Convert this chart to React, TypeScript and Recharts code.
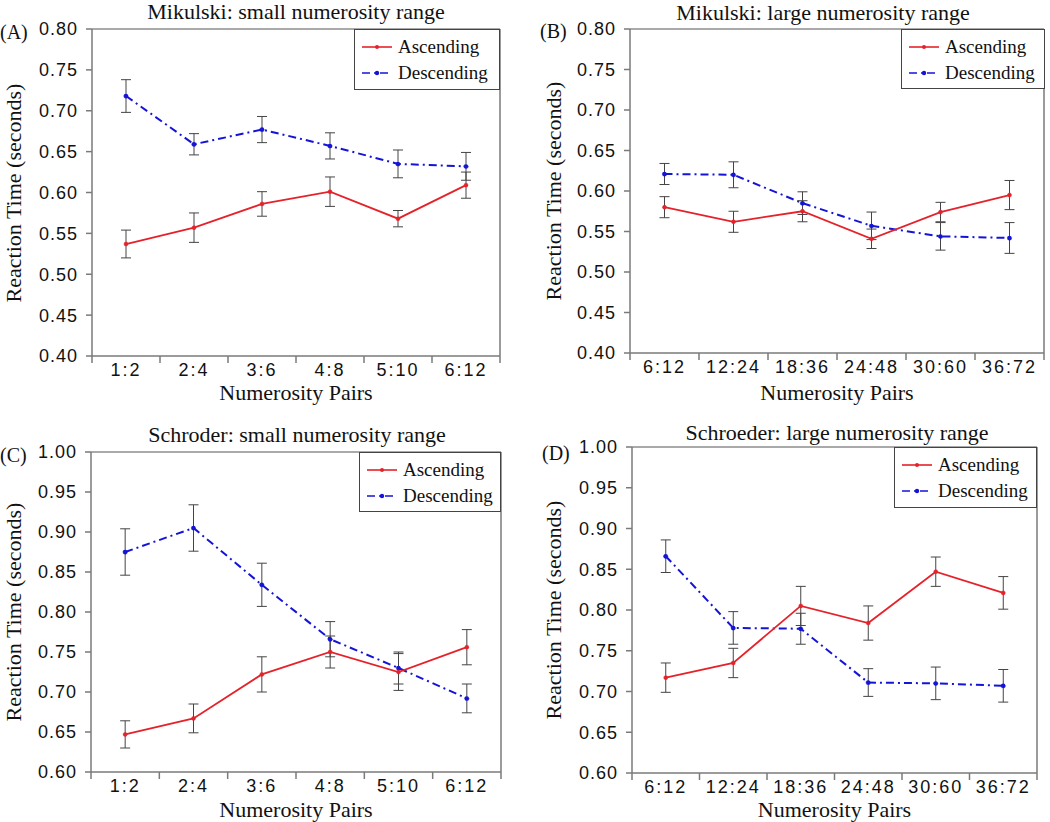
import React from 'react';
import { LineChart, Line, XAxis, YAxis, ErrorBar, Legend } from 'recharts';

// ---------- data ----------
const smallPairs = ['1:2', '2:4', '3:6', '4:8', '5:10', '6:12'];
const largePairs = ['6:12', '12:24', '18:36', '24:48', '30:60', '36:72'];
const ticksLow = [0.4, 0.45, 0.5, 0.55, 0.6, 0.65, 0.7, 0.75, 0.8];
const ticksHigh = [0.6, 0.65, 0.7, 0.75, 0.8, 0.85, 0.9, 0.95, 1.0];

const mikSmallAsc = [0.537, 0.557, 0.586, 0.601, 0.568, 0.609];
const mikSmallAscErr = [0.017, 0.018, 0.015, 0.018, 0.010, 0.016];
const mikSmallDesc = [0.718, 0.659, 0.677, 0.657, 0.635, 0.632];
const mikSmallDescErr = [0.020, 0.013, 0.016, 0.016, 0.017, 0.017];

const mikLargeAsc = [0.580, 0.562, 0.575, 0.541, 0.574, 0.595];
const mikLargeAscErr = [0.013, 0.013, 0.013, 0.012, 0.012, 0.018];
const mikLargeDesc = [0.621, 0.620, 0.585, 0.557, 0.544, 0.542];
const mikLargeDescErr = [0.013, 0.016, 0.014, 0.017, 0.017, 0.019];

const schSmallAsc = [0.647, 0.667, 0.722, 0.750, 0.725, 0.756];
const schSmallAscErr = [0.017, 0.018, 0.022, 0.020, 0.023, 0.022];
const schSmallDesc = [0.875, 0.905, 0.834, 0.766, 0.730, 0.692];
const schSmallDescErr = [0.029, 0.029, 0.027, 0.022, 0.020, 0.018];

const schLargeAsc = [0.717, 0.735, 0.805, 0.784, 0.847, 0.821];
const schLargeAscErr = [0.018, 0.018, 0.024, 0.021, 0.018, 0.020];
const schLargeDesc = [0.866, 0.778, 0.777, 0.711, 0.710, 0.707];
const schLargeDescErr = [0.020, 0.020, 0.019, 0.017, 0.020, 0.020];

const build = (cats: string[], asc: number[], ascErr: number[], desc: number[], descErr: number[]) =>
  cats.map((c, i) => ({ cat: c, asc: asc[i], ascErr: ascErr[i], desc: desc[i], descErr: descErr[i] }));

// ---------- style ----------
const W = 1050;
const H = 822;
const RED = '#e5222a';
const BLUE = '#1414d6';
const AXIS = '#7a7a7a';
const SERIF = '"Liberation Serif", "Times New Roman", serif';
const SANS = '"Liberation Sans", Arial, sans-serif';
const DASH = '8 4 2 4';
const AX = 1; // axis thickness reserved in the layout

type Panel = {
  letter: string;
  title: string;
  cats: string[];
  data: any[];
  ticks: number[];
  plot: { l: number; t: number; r: number; b: number };
  legend: { l: number; t: number; w: number; h: number };
  titleCx: number;
  titleCy: number;
  letterX: number;
  letterCy: number;
  yLabelCx: number;
  xLabelCy: number;
};

const panels: Panel[] = [
  {
    letter: '(A)', title: 'Mikulski: small numerosity range', cats: smallPairs,
    data: build(smallPairs, mikSmallAsc, mikSmallAscErr, mikSmallDesc, mikSmallDescErr),
    ticks: ticksLow, plot: { l: 92, t: 29, r: 500, b: 356 },
    legend: { l: 354, t: 29, w: 146, h: 61 },
    titleCx: 296, titleCy: 12, letterX: 0, letterCy: 32, yLabelCx: 14, xLabelCy: 393,
  },
  {
    letter: '(B)', title: 'Mikulski: large numerosity range', cats: largePairs,
    data: build(largePairs, mikLargeAsc, mikLargeAscErr, mikLargeDesc, mikLargeDescErr),
    ticks: ticksLow, plot: { l: 630, t: 29, r: 1044, b: 353 },
    legend: { l: 901, t: 29, w: 144, h: 60 },
    titleCx: 823, titleCy: 13, letterX: 540, letterCy: 31, yLabelCx: 554, xLabelCy: 393,
  },
  {
    letter: '(C)', title: 'Schroder: small numerosity range', cats: smallPairs,
    data: build(smallPairs, schSmallAsc, schSmallAscErr, schSmallDesc, schSmallDescErr),
    ticks: ticksHigh, plot: { l: 91, t: 452, r: 501, b: 772 },
    legend: { l: 359, t: 452, w: 142, h: 60 },
    titleCx: 297, titleCy: 435, letterX: 0, letterCy: 455, yLabelCx: 14, xLabelCy: 810,
  },
  {
    letter: '(D)', title: 'Schroeder: large numerosity range', cats: largePairs,
    data: build(largePairs, schLargeAsc, schLargeAscErr, schLargeDesc, schLargeDescErr),
    ticks: ticksHigh, plot: { l: 632, t: 447, r: 1037, b: 773 },
    legend: { l: 894, t: 447, w: 143, h: 61 },
    titleCx: 837, titleCy: 433, letterX: 542, letterCy: 453, yLabelCx: 554, xLabelCy: 810,
  },
];

const makeXTick = (bw: number, count: number) => (props: any) => {
  const { x, y, payload, index } = props;
  return (
    <g>
      <line x1={x - bw / 2} x2={x - bw / 2} y1={y} y2={y + 7} stroke={AXIS} strokeWidth={1.5} />
      {index === count - 1 && (
        <line x1={x + bw / 2} x2={x + bw / 2} y1={y} y2={y + 7} stroke={AXIS} strokeWidth={1.5} />
      )}
      <text x={x} y={y + 14} textAnchor="middle" dominantBaseline="central" fontFamily={SANS}
        fontSize={18} fill="#111" letterSpacing={2}>
        {payload.value}
      </text>
    </g>
  );
};

const LegendBox = ({ w, h }: { w: number; h: number }) => (
  <div style={{
    width: w, height: h, boxSizing: 'border-box', border: '1px solid #444', background: '#fff',
    fontFamily: SERIF, fontSize: 19, color: '#111', paddingLeft: 7, paddingTop: 4,
  }}>
    <div style={{ display: 'flex', alignItems: 'center', height: 26 }}>
      <svg width={30} height={10} style={{ marginRight: 6 }}>
        <line x1={0} x2={30} y1={5} y2={5} stroke={RED} strokeWidth={1.6} />
        <circle cx={15} cy={5} r={2} fill={RED} />
      </svg>
      <span>Ascending</span>
    </div>
    <div style={{ display: 'flex', alignItems: 'center', height: 26 }}>
      <svg width={30} height={10} style={{ marginRight: 6 }}>
        <line x1={0} x2={30} y1={5} y2={5} stroke={BLUE} strokeWidth={1.6} strokeDasharray="8 4 2 4" />
        <circle cx={15} cy={5} r={2.2} fill={BLUE} />
      </svg>
      <span>Descending</span>
    </div>
  </div>
);

const PanelChart = ({ p }: { p: Panel }) => {
  const { plot } = p;
  const bw = (plot.r - plot.l) / p.cats.length;
  const domain = [p.ticks[0], p.ticks[p.ticks.length - 1]];
  const yMid = (plot.t + plot.b) / 2;
  const xMid = (plot.l + plot.r) / 2;
  return (
    <>
      <div style={{ position: 'absolute', left: 0, top: 0, width: W, height: H }}>
        <LineChart width={W} height={H} data={p.data}
          margin={{ top: plot.t - AX, left: plot.l - AX, right: W - plot.r - AX, bottom: H - plot.b - AX }}>
          <XAxis dataKey="cat" scale="band" height={AX} tickLine={false} tickSize={0} tickMargin={0}
            axisLine={{ stroke: AXIS, strokeWidth: 1.5 }} tick={makeXTick(bw, p.cats.length)} interval={0} />
          <XAxis xAxisId="top" orientation="top" dataKey="cat" scale="band" height={AX}
            tick={false} tickLine={false} axisLine={{ stroke: '#555', strokeWidth: 1 }} />
          <YAxis width={AX} domain={domain} ticks={p.ticks} type="number" allowDataOverflow
            tickFormatter={(v: number) => v.toFixed(2)} tickSize={6} tickMargin={8}
            tickLine={{ stroke: AXIS, strokeWidth: 1.5 }} axisLine={{ stroke: AXIS, strokeWidth: 1.5 }}
            tick={{ fontFamily: SANS, fontSize: 18, fill: '#111', letterSpacing: 1 }} interval={0} />
          <YAxis yAxisId="right" orientation="right" width={AX} domain={domain} ticks={p.ticks} type="number"
            tick={false} tickLine={false} axisLine={{ stroke: AXIS, strokeWidth: 1.5 }} />
          <Legend layout="vertical" align="center" verticalAlign="middle"
            wrapperStyle={{ position: 'absolute', left: p.legend.l, top: p.legend.t, width: p.legend.w, height: p.legend.h }}
            content={() => <LegendBox w={p.legend.w} h={p.legend.h} />} />
          <Line dataKey="desc" name="Descending" stroke={BLUE} strokeWidth={2} strokeDasharray={DASH}
            dot={{ r: 2.2, fill: BLUE, stroke: BLUE, strokeWidth: 0.5 }} activeDot={false} isAnimationActive={false}>
            <ErrorBar dataKey="descErr" width={5} stroke="#444" strokeWidth={1} direction="y" isAnimationActive={false} />
          </Line>
          <Line dataKey="asc" name="Ascending" stroke={RED} strokeWidth={1.8}
            dot={{ r: 2, fill: RED, stroke: RED, strokeWidth: 0.5 }} activeDot={false} isAnimationActive={false}>
            <ErrorBar dataKey="ascErr" width={5} stroke="#444" strokeWidth={1} direction="y" isAnimationActive={false} />
          </Line>
        </LineChart>
      </div>
      <div style={{
        position: 'absolute', left: p.titleCx, top: p.titleCy, transform: 'translate(-50%, -50%)',
        fontFamily: SERIF, fontSize: 22, lineHeight: 1, whiteSpace: 'nowrap', color: '#111',
      }}>{p.title}</div>
      <div style={{
        position: 'absolute', left: p.letterX, top: p.letterCy, transform: 'translateY(-50%)',
        fontFamily: SERIF, fontSize: 20, lineHeight: 1, whiteSpace: 'nowrap', color: '#111',
      }}>{p.letter}</div>
      <div style={{
        position: 'absolute', left: p.yLabelCx, top: yMid, transform: 'translate(-50%, -50%) rotate(-90deg)',
        fontFamily: SERIF, fontSize: 22, lineHeight: 1, whiteSpace: 'nowrap', color: '#111',
      }}>Reaction Time (seconds)</div>
      <div style={{
        position: 'absolute', left: xMid, top: p.xLabelCy, transform: 'translate(-50%, -50%)',
        fontFamily: SERIF, fontSize: 22, lineHeight: 1, whiteSpace: 'nowrap', color: '#111',
      }}>Numerosity Pairs</div>
    </>
  );
};

export default function App() {
  return (
    <div style={{ position: 'absolute', left: 0, top: 0, width: W, height: H, background: '#fff', overflow: 'hidden' }}>
      {panels.map((p) => (
        <PanelChart key={p.letter} p={p} />
      ))}
    </div>
  );
}
